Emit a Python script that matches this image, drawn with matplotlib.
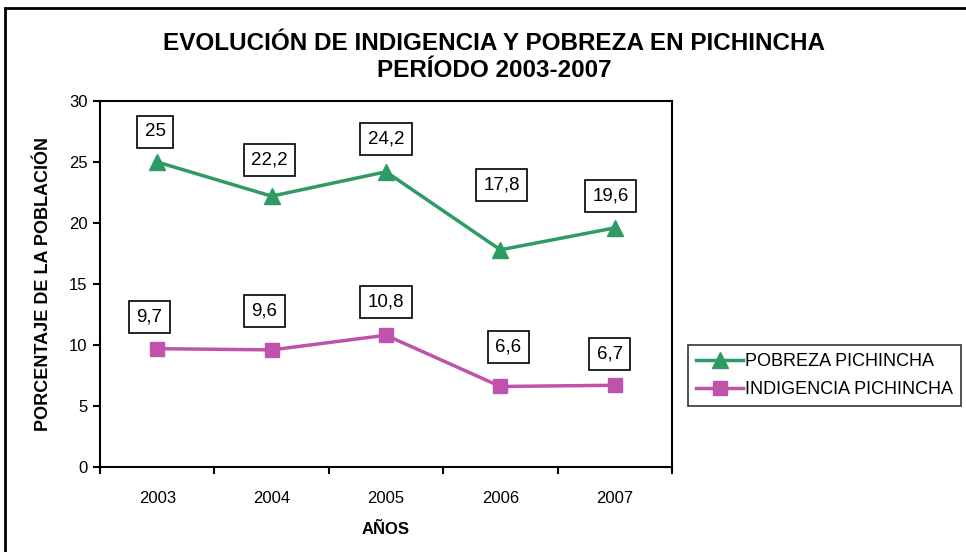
import matplotlib
matplotlib.use("Agg")
import matplotlib.pyplot as plt
from matplotlib.patches import Rectangle

plt.rcParams['font.family'] = ['Liberation Sans', 'DejaVu Sans']

years = ["2003", "2004", "2005", "2006", "2007"]
pobreza = [25, 22.2, 24.2, 17.8, 19.6]
indigencia = [9.7, 9.6, 10.8, 6.6, 6.7]
pobreza_labels = ["25", "22,2", "24,2", "17,8", "19,6"]
indigencia_labels = ["9,7", "9,6", "10,8", "6,6", "6,7"]

# label box offsets in pixels (dx, dy up)
pob_off = [(-2, 30), (-2, 36), (0, 33), (1, 65), (-4, 32)]
ind_off = [(-8, 32), (-7, 39), (0, 33), (8, 39), (-5, 31)]

green = "#2E9A64"
magenta = "#BF52AA"

dpi = 100
fig = plt.figure(figsize=(9.66, 5.52), dpi=dpi)
ax = fig.add_axes([100/966, 85/552, 572/966, 366/552])

x = list(range(len(years)))
l1, = ax.plot(x, pobreza, color=green, lw=2.5, marker="^", markersize=11,
              label="POBREZA PICHINCHA")
l2, = ax.plot(x, indigencia, color=magenta, lw=2.5, marker="s", markersize=9.5,
              label="INDIGENCIA PICHINCHA")

ax.set_xlim(-0.5, 4.5)
ax.set_ylim(0, 30)
ax.set_yticks([0, 5, 10, 15, 20, 25, 30])
ax.set_xticks([i - 0.5 for i in range(6)])
ax.set_xticklabels([])
ax.set_xticks(x, minor=True)
ax.set_xticklabels(years, minor=True)
ax.tick_params(axis='x', which='minor', length=0, pad=17, labelsize=12)
ax.tick_params(axis='x', which='major', direction='out', length=5, width=1.5)
ax.tick_params(axis='y', direction='out', length=5, width=1.5, labelsize=12, pad=4)
for s in ax.spines.values():
    s.set_linewidth(1.5)
    s.set_color("black")

bbox = dict(boxstyle="square,pad=0.4", fc="white", ec="black", lw=1.2)
pt = 72 / dpi
for xi, v, t, (dx, dy) in zip(x, pobreza, pobreza_labels, pob_off):
    ax.annotate(t, (xi, v), xytext=(dx * pt, dy * pt), textcoords="offset points",
                ha="center", va="center", fontsize=13.5, bbox=bbox)
for xi, v, t, (dx, dy) in zip(x, indigencia, indigencia_labels, ind_off):
    ax.annotate(t, (xi, v), xytext=(dx * pt, dy * pt), textcoords="offset points",
                ha="center", va="center", fontsize=13.5, bbox=bbox)

ax.set_xlabel("AÑOS", fontsize=12, fontweight="bold", labelpad=12)
ax.set_ylabel("PORCENTAJE DE LA POBLACIÓN", fontsize=13, fontweight="bold", labelpad=12)

fig.text(494/966, 1 - 57/552, "EVOLUCIÓN DE INDIGENCIA Y POBREZA EN PICHINCHA\nPERÍODO 2003-2007",
         ha="center", va="center", fontsize=17.5, fontweight="bold", linespacing=1.25)

leg = fig.legend(handles=[l1, l2], loc="upper left",
                 bbox_to_anchor=(688/966, 1 - 345/552), fontsize=13,
                 frameon=True, fancybox=False, shadow=False, handlelength=2.6,
                 handletextpad=0.1, borderpad=0.45, labelspacing=0.6, borderaxespad=0)
leg.get_frame().set_edgecolor("black")
leg.get_frame().set_linewidth(1.2)

fig.patches.append(Rectangle((5/966, -0.1), 1.2, 1 - 8/552 + 0.1, transform=fig.transFigure,
                             fill=False, ec="black", lw=2))

fig.savefig("out.png", dpi=dpi)
